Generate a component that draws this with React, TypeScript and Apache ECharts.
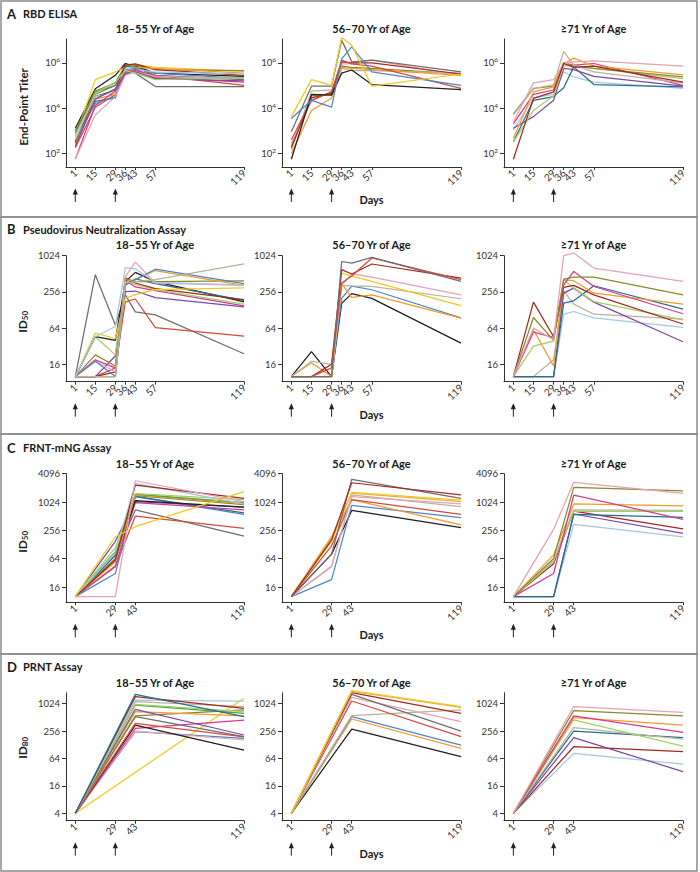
import React, { useEffect, useRef } from "react";
import * as echarts from "echarts";

// ---------- data ----------
const DAYS_AB = [1, 15, 29, 36, 43, 57, 119];
const DAYS_CD = [1, 29, 43, 119];
const ELISA_TICKS = [100, 10000, 1000000];
const PSV_TICKS = [16, 64, 256, 1024];
const FRNT_TICKS = [16, 64, 256, 1024, 4096];
const PRNT_TICKS = [4, 16, 64, 256, 1024];
const AGE_GROUPS = ["18\u201355 Yr of Age", "56\u201370 Yr of Age", "\u226571 Yr of Age"];

type Line = { id: string; v: (number | null)[] };

// A: RBD ELISA end-point titers, days 1,15,29,36,43,57,119
const ELISA_18_55: Line[] = [
  { id: "black", v: [1.3e3, 7.1e4, 2.8e5, 9.3e5, 7.1e5, 3.5e5, 2.5e5] },
  { id: "yellow", v: [5.6e2, 1.8e5, 4.0e5, 6.3e5, 8.3e5, 6.3e5, 4.2e5] },
  { id: "gray", v: [7.9e2, 5.0e4, 1.0e5, 5.6e5, 3.5e5, 8.9e4, 8.9e4] },
  { id: "teal", v: [2.8e2, 2.0e4, 2.8e4, 7.1e5, 6.3e5, 2.8e5, 1.8e5] },
  { id: "green", v: [3.2e2, 4.0e4, 1.0e5, 5.0e5, 5.2e5, 2.0e5, 2.2e5] },
  { id: "olive", v: [1.0e3, 5.6e4, 1.3e5, 7.9e5, 7.9e5, 5.0e5, 4.5e5] },
  { id: "red", v: [1.8e2, 1.1e4, 4.0e4, 3.2e5, 4.5e5, 2.8e5, 1.0e5] },
  { id: "darkred", v: [3.2e2, 3.2e4, 6.3e4, 7.9e5, 8.9e5, 5.0e5, 2.8e5] },
  { id: "orange", v: [2.5e2, 2.5e4, 4.0e4, 4.0e5, 6.3e5, 5.6e5, 3.5e5] },
  { id: "blue", v: [4.0e2, 1.6e4, 3.2e4, 5.0e5, 5.6e5, 3.5e5, 2.0e5] },
  { id: "lightblue", v: [6.3e2, 3.2e4, 5.0e4, 5.6e5, 5.0e5, 4.0e5, 3.2e5] },
  { id: "magenta", v: [56, 1.3e4, 5.6e4, 4.0e5, 5.0e5, 2.2e5, 1.4e5] },
  { id: "pink", v: [56, 5.0e3, 3.2e4, 2.8e5, 4.0e5, 2.5e5, 2.0e5] },
  { id: "purple", v: [2.0e2, 2.5e4, 7.1e4, 3.5e5, 4.0e5, 2.0e5, 1.6e5] },
  { id: "lightgreen", v: [4.0e2, 4.5e4, 1.4e5, 4.5e5, 3.5e5, 1.8e5, 2.2e5] },
];
const ELISA_56_70: Line[] = [
  { id: "olive", v: [2.0e2, 3.5e4, 4.0e4, 7.1e5, 6.3e5, 5.6e5, 3.2e5] },
  { id: "tan", v: [1.4e2, 5.6e4, 6.3e4, 5.6e5, 4.5e5, 4.5e5, 3.5e5] },
  { id: "pink", v: [2.8e2, 2.0e4, 5.6e4, 8.9e5, 8.9e5, 1.3e6, 2.8e5] },
  { id: "orange", v: [1.0e2, 7.9e3, 2.8e4, 6.3e5, 5.6e5, 5.0e5, 2.8e5] },
  { id: "darkred", v: [1.8e2, 2.8e4, 4.5e4, 1.1e6, 1.0e6, 1.0e6, 3.2e5] },
  { id: "red", v: [4.0e2, 2.2e4, 5.2e4, 1.3e6, 8.9e5, 7.1e5, 7.4e4] },
  { id: "black", v: [55, 4.0e4, 3.7e4, 3.5e5, 4.8e5, 1.1e5, 6.6e4] },
  { id: "gray", v: [9.1e2, 9.3e4, 9.3e4, 1.0e7, 1.1e6, 1.3e6, 4.0e5] },
  { id: "blue", v: [3.5e3, 2.2e4, 1.1e4, 1.5e6, 5.0e6, 4.0e5, 1.0e5] },
  { id: "yellow", v: [4.2e3, 1.8e5, 1.0e5, 1.3e7, 6.0e6, 9.3e4, 3.2e5] },
];
const ELISA_71: Line[] = [
  { id: "lightblue", v: [1.1e3, 2.8e4, 4.0e4, 4.0e5, 2.4e5, 1.4e5, 7.4e4] },
  { id: "teal", v: [3.2e2, 2.2e4, 3.2e4, 7.9e4, 6.6e5, 1.1e5, 8.7e4] },
  { id: "purple", v: [1.3e3, 4.2e3, 2.2e4, 5.6e5, 5.0e5, 2.5e5, 9.3e4] },
  { id: "lightgreen", v: [3.2e2, 7.9e3, 3.5e4, 7.1e5, 7.9e5, 5.6e5, 2.0e5] },
  { id: "magenta", v: [2.0e3, 4.0e4, 6.3e4, 1.0e6, 7.9e5, 9.3e5, 1.0e5] },
  { id: "olive", v: [5.6e3, 7.4e4, 9.3e4, 1.0e6, 7.1e5, 5.6e5, 2.4e5] },
  { id: "tan", v: [5.0e3, 7.1e4, 1.1e5, 3.2e6, 7.9e5, 4.0e5, 1.3e5] },
  { id: "orange", v: [4.5e2, 5.2e4, 8.7e4, 8.9e5, 1.6e6, 7.1e5, 2.9e5] },
  { id: "pink", v: [2.5e3, 1.3e5, 1.8e5, 8.9e5, 1.1e6, 1.2e6, 7.1e5] },
  { id: "darkred", v: [55, 2.7e4, 5.2e4, 9.3e5, 6.3e5, 7.1e5, 1.4e5] },
];

// B: pseudovirus neutralization ID50, days 1,15,29,36,43,57,119
const PSV_18_55: Line[] = [
  { id: "gray", v: [10, 494, 72, 229, 119, 106, 24] },
  { id: "red", v: [10, 10, 14, 175, 195, 65, 47] },
  { id: "purple", v: [10, 10, 22, 260, 265, 205, 145] },
  { id: "magenta", v: [10, 19, 14, 395, 310, 270, 150] },
  { id: "lightgreen", v: [10, 46, 23, 395, 340, 280, 160] },
  { id: "black", v: [10, 46, 40, 380, 540, 380, 175] },
  { id: "teal", v: [10, 10, 10, 330, 420, 350, 185] },
  { id: "darkred", v: [10, 10, 12, 440, 360, 290, 190] },
  { id: "yellow", v: [10, 53, 43, 200, 230, 280, 300] },
  { id: "olive", v: [10, 23, 15, 420, 380, 380, 390] },
  { id: "pink", v: [10, 18, 12, 460, 800, 360, 330] },
  { id: "orange", v: [10, 10, 10, 380, 410, 580, 330] },
  { id: "blue", v: [10, 18, 10, 350, 410, 610, 350] },
  { id: "lightblue", v: [10, 46, 68, 650, 620, 370, 335] },
  { id: "tan", v: [10, 10, 10, 360, 380, 410, 750] },
];
const PSV_56_70: Line[] = [
  { id: "black", v: [10, 26, 10, 165, 240, 200, 36] },
  { id: "blue", v: [10, 10, 10, 200, 320, 278, 95] },
  { id: "orange", v: [10, 17, 10, 350, 207, 229, 94] },
  { id: "tan", v: [10, 18, 16, 330, 324, 315, 197] },
  { id: "pink", v: [10, 10, 10, 330, 510, 450, 229] },
  { id: "yellow", v: [10, 10, 10, 526, 470, 383, 152] },
  { id: "darkred", v: [10, 10, 16, 600, 508, 745, 433] },
  { id: "red", v: [10, 10, 14, 360, 470, 940, 410] },
  { id: "gray", v: [10, 10, 10, 820, 770, 960, 383] },
];
const PSV_71: Line[] = [
  { id: "lightblue", v: [10, 10, 10, 109, 121, 95, 66] },
  { id: "tan", v: [10, 10, 19, 266, 160, 109, 90] },
  { id: "purple", v: [10, 10, 10, 244, 296, 173, 38] },
  { id: "teal", v: [10, 10, 10, 166, 182, 324, 132] },
  { id: "lightgreen", v: [10, 32, 39, 407, 296, 177, 88] },
  { id: "orange", v: [10, 60, 15, 407, 393, 244, 160] },
  { id: "darkred", v: [10, 173, 46, 304, 329, 229, 75] },
  { id: "magenta", v: [10, 55, 45, 335, 560, 315, 111] },
  { id: "olive", v: [10, 96, 40, 418, 452, 452, 229] },
  { id: "pink", v: [10, 64, 41, 1024, 1136, 639, 383] },
];

// C: FRNT-mNG ID50, days 1,29,43,119
const FRNT_18_55: Line[] = [
  { id: "gray", v: [10, 75, 695, 194] },
  { id: "red", v: [10, 43, 515, 282] },
  { id: "blue", v: [10, 31, 1330, 560] },
  { id: "teal", v: [10, 75, 1350, 600] },
  { id: "magenta", v: [10, 45, 1000, 700] },
  { id: "purple", v: [10, 150, 1050, 800] },
  { id: "black", v: [10, 60, 1100, 800] },
  { id: "olive", v: [10, 65, 1400, 900] },
  { id: "orange", v: [10, 55, 1450, 950] },
  { id: "green", v: [10, 90, 1500, 1000] },
  { id: "lightgreen", v: [10, 110, 1550, 1150] },
  { id: "lightblue", v: [10, 85, 2550, 940] },
  { id: "darkred", v: [10, 60, 2350, 1230] },
  { id: "yellow", v: [10, 187, 306, 1700] },
  { id: "pink", v: [10, 10, 2900, 1040] },
];
const FRNT_56_70: Line[] = [
  { id: "black", v: [10, 80, 680, 292] },
  { id: "blue", v: [10, 23, 870, 477] },
  { id: "orange", v: [10, 180, 1150, 333] },
  { id: "red", v: [10, 120, 1150, 560] },
  { id: "tan", v: [10, 43, 1450, 815] },
  { id: "pink", v: [10, 45, 1330, 930] },
  { id: "gold", v: [10, 190, 1580, 1050] },
  { id: "yellow", v: [10, 150, 1640, 1130] },
  { id: "gray", v: [10, 80, 3100, 1230] },
  { id: "darkred", v: [10, 160, 2630, 1450] },
];
const FRNT_71: Line[] = [
  { id: "lightblue", v: [10, 10, 342, 187] },
  { id: "purple", v: [10, 10, 570, 221] },
  { id: "darkred", v: [10, 50, 657, 275] },
  { id: "teal", v: [10, 10, 560, 485] },
  { id: "tan", v: [10, 60, 700, 680] },
  { id: "lightgreen", v: [10, 55, 650, 648] },
  { id: "orange", v: [10, 77, 930, 845] },
  { id: "magenta", v: [10, 31, 1440, 440] },
  { id: "olive", v: [10, 65, 2100, 1760] },
  { id: "pink", v: [10, 269, 2680, 1560] },
];

// D: PRNT ID80, days 1,29,43,119 (no day-29 sample)
const PRNT_18_55: Line[] = [
  { id: "yellow", v: [4, null, null, 1340] },
  { id: "blue", v: [4, null, 249, 177] },
  { id: "pink", v: [4, null, 256, 163] },
  { id: "magenta", v: [4, null, 294, 445] },
  { id: "black", v: [4, null, 347, 98] },
  { id: "red", v: [4, null, 378, 190] },
  { id: "gray", v: [4, null, 530, 193] },
  { id: "olive", v: [4, null, 550, 745] },
  { id: "orange", v: [4, null, 685, 550] },
  { id: "purple", v: [4, null, 770, 210] },
  { id: "green", v: [4, null, 955, 630] },
  { id: "lightgreen", v: [4, null, 990, 685] },
  { id: "tan", v: [4, null, 1130, 880] },
  { id: "lightblue", v: [4, null, 1230, 1170] },
  { id: "darkred", v: [4, null, 1460, 810] },
  { id: "teal", v: [4, null, 1640, 530] },
];
const PRNT_56_70: Line[] = [
  { id: "black", v: [4, null, 284, 70] },
  { id: "orange", v: [4, null, 471, 107] },
  { id: "blue", v: [4, null, 530, 126] },
  { id: "tan", v: [4, null, 557, 745] },
  { id: "red", v: [4, null, 1170, 193] },
  { id: "pink", v: [4, null, 1400, 413] },
  { id: "gray", v: [4, null, 1640, 256] },
  { id: "darkred", v: [4, null, 1780, 625] },
  { id: "gold", v: [4, null, 1900, 850] },
  { id: "yellow", v: [4, null, 1980, 880] },
];
const PRNT_71: Line[] = [
  { id: "lightblue", v: [4, null, 83, 48] },
  { id: "darkred", v: [4, null, 116, 90] },
  { id: "purple", v: [4, null, 183, 33] },
  { id: "teal", v: [4, null, 256, 183] },
  { id: "tan", v: [4, null, 304, 171] },
  { id: "lightgreen", v: [4, null, 450, 120] },
  { id: "orange", v: [4, null, 505, 347] },
  { id: "magenta", v: [4, null, 550, 240] },
  { id: "olive", v: [4, null, 720, 550] },
  { id: "pink", v: [4, null, 880, 660] },
];

// ---------- styles / layout ----------
const FONT = "Lato, 'Noto Sans', 'DejaVu Sans', sans-serif";
const AXIS = "#333333";
const PALETTE: Record<string, string> = {
  black: "#1f1f1f",
  gray: "#6e6e6e",
  red: "#d9483a",
  darkred: "#9f2a20",
  orange: "#f39a2c",
  yellow: "#f2c81f",
  gold: "#e9b04a",
  blue: "#4f86c6",
  lightblue: "#a5c8df",
  teal: "#256f8c",
  green: "#4f9f45",
  lightgreen: "#a4cf68",
  olive: "#878a2c",
  purple: "#7a49a7",
  magenta: "#d8398c",
  pink: "#e6a1b5",
  tan: "#bcb299",
};

const ROWS = [
  { letter: "A", name: "RBD ELISA", base: 10, top: 39, height: 128, min: 1.4, max: 7.05, ticks: ELISA_TICKS, days: DAYS_AB, data: [ELISA_18_55, ELISA_56_70, ELISA_71], titleY: 13.5, subY: 28.5, box: [1, 216], yName: "End-Point Titer", sub: "", yNameY: 107 },
  { letter: "B", name: "Pseudovirus Neutralization Assay", base: 2, top: 255.7, height: 126, min: 3.04, max: 10, ticks: PSV_TICKS, days: DAYS_AB, data: [PSV_18_55, PSV_56_70, PSV_71], titleY: 229, subY: 244.5, box: [217, 217], yName: "ID", sub: "50", yNameY: 323 },
  { letter: "C", name: "FRNT-mNG Assay", base: 2, top: 473.7, height: 128.6, min: 2.92, max: 12, ticks: FRNT_TICKS, days: DAYS_CD, data: [FRNT_18_55, FRNT_56_70, FRNT_71], titleY: 447.5, subY: 463.5, box: [434, 220], yName: "ID", sub: "50", yNameY: 543 },
  { letter: "D", name: "PRNT Assay", base: 2, top: 692.7, height: 128, min: 1.46, max: 10.8, ticks: PRNT_TICKS, days: DAYS_CD, data: [PRNT_18_55, PRNT_56_70, PRNT_71], titleY: 666.5, subY: 682, box: [654, 217], yName: "ID", sub: "80", yNameY: 749 },
];
const COLS = [
  { left: 66, width: 178 },
  { left: 282, width: 179 },
  { left: 504, width: 179 },
];
const X_MIN = -5.5;
const X_MAX = 119;
const SUP: Record<number, string> = { 2: "2", 4: "4", 6: "6" };

function tr(v: number, base: number) {
  return base === 10 ? Math.log10(v) : Math.log2(v);
}

export default function App() {
  const ref = useRef<HTMLDivElement>(null);
  useEffect(() => {
    document.body.style.margin = "0";
    if (!ref.current) return;
    const chart = echarts.init(ref.current, undefined, { renderer: "svg" });
    const grid: any[] = [];
    const xAxis: any[] = [];
    const yAxis: any[] = [];
    const series: any[] = [];
    ROWS.forEach((row, r) => {
      const tickVals = row.ticks.map((t) => tr(t, row.base));
      COLS.forEach((col, c) => {
        const p = r * 3 + c;
        grid.push({ left: col.left, width: col.width, top: row.top, height: row.height, containLabel: false });
        xAxis.push({
          type: "value",
          gridIndex: p,
          min: X_MIN,
          max: X_MAX,
          axisLine: { show: true, onZero: false, lineStyle: { color: AXIS, width: 1 } },
          axisTick: { show: true, length: 3, customValues: row.days, lineStyle: { color: AXIS } },
          axisLabel: { customValues: row.days, rotate: 45, fontSize: 10, color: "#333", margin: 4, fontFamily: FONT },
          splitLine: { show: false },
        });
        yAxis.push({
          type: "value",
          gridIndex: p,
          min: row.min,
          max: row.max,
          axisLine: { show: true, onZero: false, lineStyle: { color: AXIS, width: 1 } },
          axisTick: { show: true, length: 4, customValues: tickVals, lineStyle: { color: AXIS } },
          axisLabel: {
            customValues: tickVals,
            fontSize: 9.5,
            color: "#333",
            margin: 6,
            fontFamily: FONT,
            formatter: (v: number) =>
              row.base === 10 ? "10{s|" + SUP[Math.round(v)] + "}" : String(Math.round(Math.pow(2, v))),
            rich: { s: { fontSize: 6.5, color: "#333", fontFamily: FONT, padding: [0, 0, 6, 0] } },
          },
          splitLine: { show: false },
        });
        row.data[c].forEach((line) => {
          const pts: number[][] = [];
          line.v.forEach((val, i) => {
            if (val != null) pts.push([row.days[i], tr(val, row.base)]);
          });
          series.push({
            type: "line",
            xAxisIndex: p,
            yAxisIndex: p,
            data: pts,
            showSymbol: false,
            symbol: "none",
            clip: false,
            silent: true,
            lineStyle: { color: PALETTE[line.id], width: 1.25 },
          });
        });
      });
    });

    chart.setOption({ animation: false, textStyle: { fontFamily: FONT }, grid, xAxis, yAxis, series });

    const g: any[] = [];
    ROWS.forEach((row, r) => {
      g.push({ type: "rect", shape: { x: 1, y: row.box[0], width: 696, height: row.box[1] }, style: { fill: "none", stroke: "#8a8a8a", lineWidth: 1.5 }, silent: true });
      g.push({ type: "text", x: 7, y: row.titleY, style: { text: row.letter, font: `bold 13px ${FONT}`, fill: "#1a1a1a", verticalAlign: "middle" } });
      g.push({ type: "text", x: 23, y: row.titleY, style: { text: row.name, font: `bold 11px ${FONT}`, fill: "#1a1a1a", verticalAlign: "middle" } });
      if (row.sub) {
        g.push({ type: "text", x: 22.5, y: row.yNameY + 3.5, rotation: Math.PI / 2, style: { text: row.yName, font: `bold 12px ${FONT}`, fill: "#1a1a1a", align: "center", verticalAlign: "middle" } });
        g.push({ type: "text", x: 25, y: row.yNameY - 7.5, rotation: Math.PI / 2, style: { text: row.sub, font: `bold 8px ${FONT}`, fill: "#1a1a1a", align: "center", verticalAlign: "middle" } });
      } else {
        g.push({ type: "text", x: 23, y: row.yNameY, rotation: Math.PI / 2, style: { text: row.yName, font: `bold 11.5px ${FONT}`, fill: "#1a1a1a", align: "center", verticalAlign: "middle" } });
      }
      COLS.forEach((col, c) => {
        const p = r * 3 + c;
        g.push({ type: "text", x: col.left + col.width / 2, y: row.subY, style: { text: AGE_GROUPS[c], font: `bold 11px ${FONT}`, fill: "#1a1a1a", align: "center", verticalAlign: "middle" } });
        const bottom = chart.convertToPixel({ yAxisIndex: p } as any, row.min) as unknown as number;
        [1, 29].forEach((day) => {
          const x = chart.convertToPixel({ xAxisIndex: p } as any, day) as unknown as number;
          g.push({ type: "line", shape: { x1: x, y1: bottom + 26, x2: x, y2: bottom + 35 }, style: { stroke: "#222", lineWidth: 1 } });
          g.push({ type: "polygon", shape: { points: [[x, bottom + 21.5], [x - 2.6, bottom + 27.5], [x + 2.6, bottom + 27.5]] }, style: { fill: "#222" } });
        });
        if (c === 1) {
          g.push({ type: "text", x: col.left + col.width / 2, y: bottom + 32.5, style: { text: "Days", font: `bold 11px ${FONT}`, fill: "#1a1a1a", align: "center", verticalAlign: "middle" } });
        }
      });
    });
    chart.setOption({ graphic: g });
    return () => chart.dispose();
  }, []);
  return <div ref={ref} style={{ width: 700, height: 872 }} />;
}
